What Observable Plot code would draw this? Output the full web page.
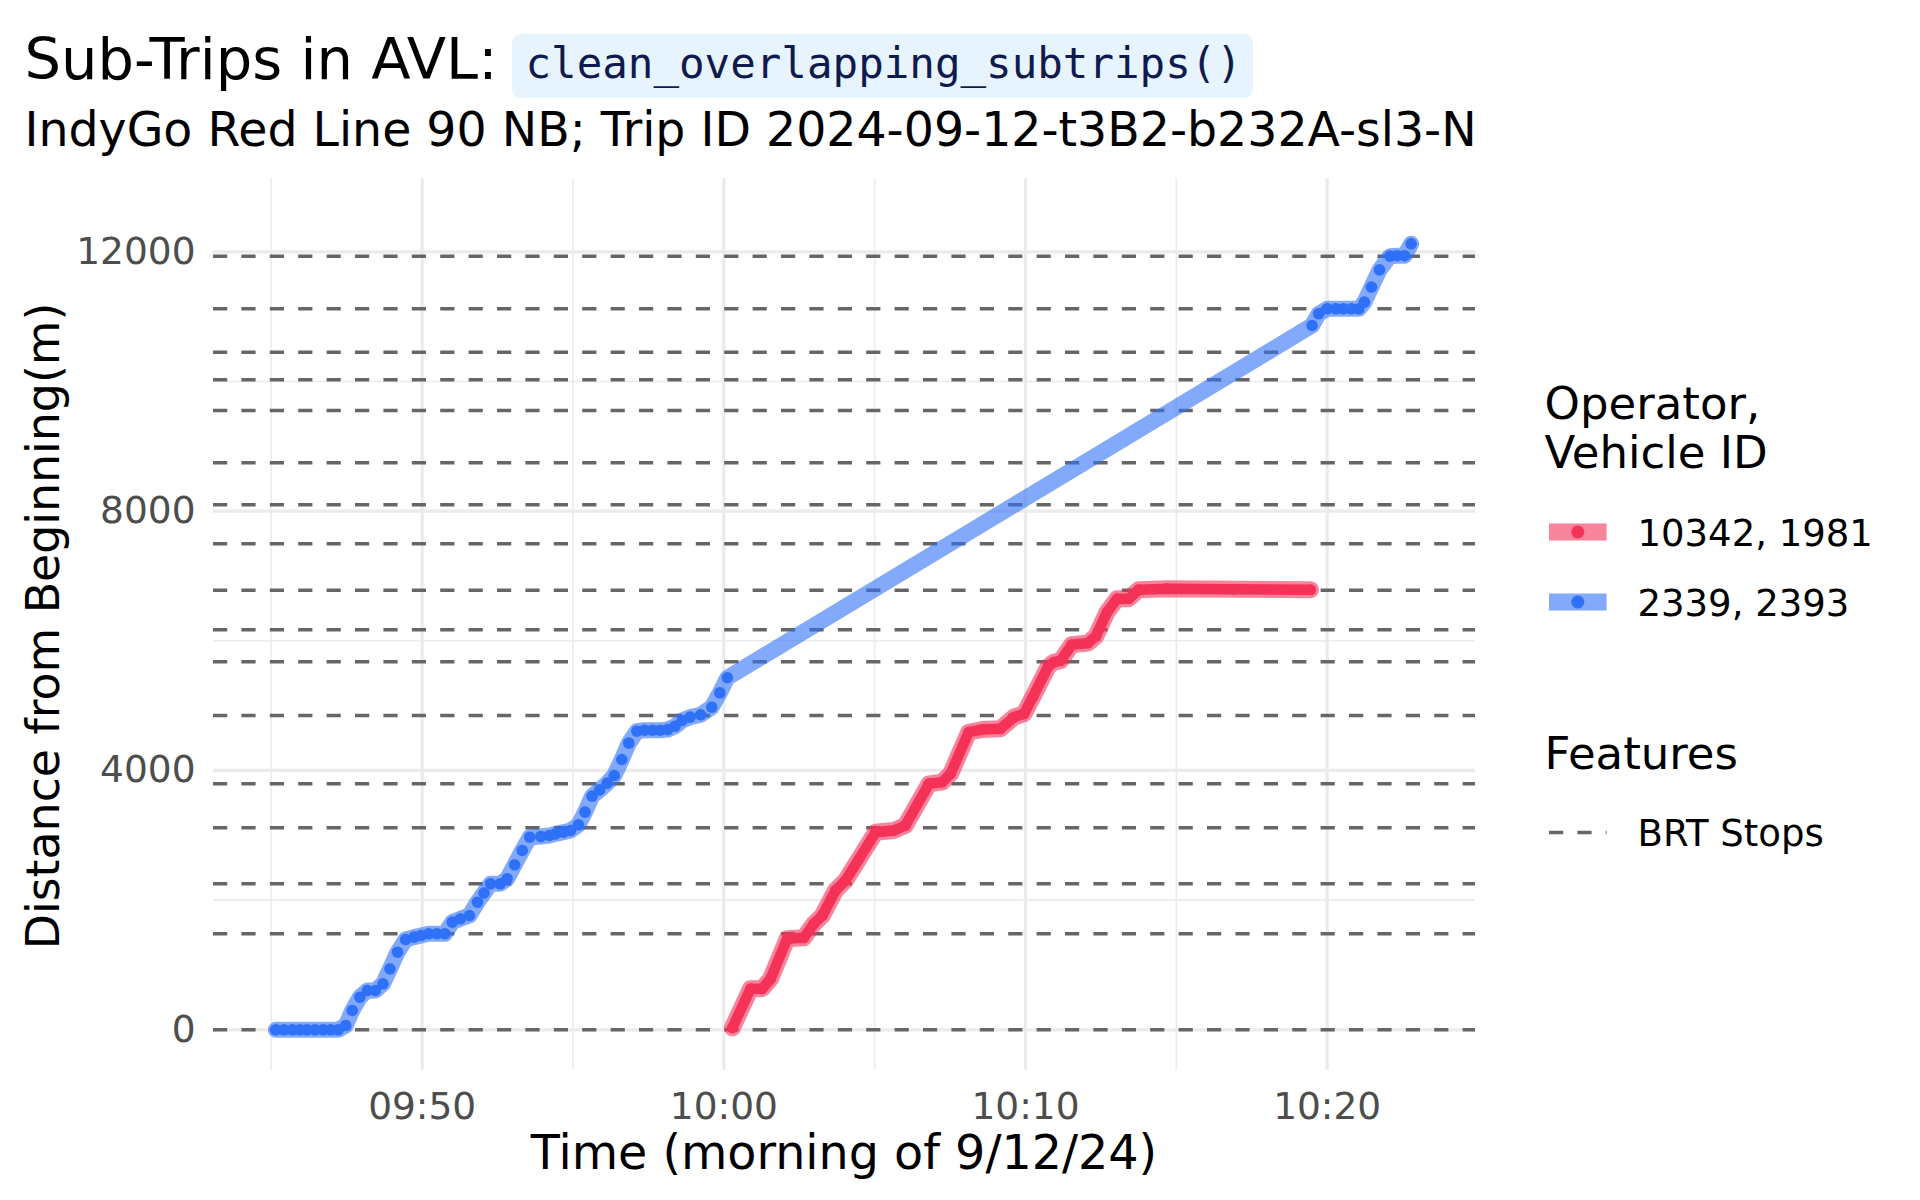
<!DOCTYPE html>
<html><head><meta charset="utf-8">
<script src="https://cdn.jsdelivr.net/npm/d3@7"></script>
<script src="https://cdn.jsdelivr.net/npm/@observablehq/plot@0.6"></script>
<style>
html,body{margin:0;padding:0;background:#fff;}
#wrap{position:relative;width:1920px;height:1200px;font-family:"DejaVu Sans",sans-serif;}
#wrap svg{position:absolute;left:0;top:0;}
</style></head><body><div id="wrap"></div>
<script>
const day = "2024-09-12";
const T = s => new Date(`${day}T${s}Z`);

// BRT stop distances (m)
const stopDistances = [0, 1481, 2252, 3116, 3794, 4848, 5676, 6170, 6781, 7497, 8098, 8746, 9553, 10026, 10452, 11121, 11933];

// Operator 2339, vehicle 2393
const blueTimes = ["09:45:09","09:45:25","09:45:42","09:45:57","09:46:11","09:46:27","09:46:43","09:46:58","09:47:13",
  "09:47:28","09:47:41","09:47:56","09:48:11","09:48:27","09:48:42","09:48:56","09:49:11","09:49:27","09:49:44","09:49:58",
  "09:50:13","09:50:29","09:50:45","09:51:00","09:51:16","09:51:34","09:51:50","09:52:03","09:52:16","09:52:35","09:52:49",
  "09:53:04","09:53:19","09:53:34","09:53:56","09:54:13","09:54:25","09:54:41","09:54:55","09:55:11","09:55:24","09:55:38",
  "09:55:53","09:56:08","09:56:22","09:56:37","09:56:51","09:57:07","09:57:22","09:57:38","09:57:53","09:58:08","09:58:23",
  "09:58:37","09:58:53","09:59:14","09:59:36","09:59:52","10:00:07",
  "10:19:30","10:19:43","10:20:00","10:20:17","10:20:32","10:20:48","10:21:03","10:21:14","10:21:28","10:21:44","10:22:05",
  "10:22:19","10:22:34","10:22:47"];
const blueDist = [0,0,0,0,0,0,0,0,0,
  66,298,503,606,606,709,940,1197,1393,1429,1455,
  1481,1481,1481,1660,1712,1763,1968,2110,2252,2252,2329,
  2545,2766,2971,2982,2997,3022,3048,3074,3162,3357,3604,
  3700,3804,3922,4169,4421,4606,4620,4620,4620,4630,4683,
  4771,4822,4859,4976,5198,5430,
  10864,11044,11121,11121,11121,11121,11121,11224,11455,11722,11933,
  11940,11940,12124];

// Operator 10342, vehicle 1981
const redTimes = ["10:00:17","10:00:53","10:01:16","10:01:33","10:02:06","10:02:39","10:02:59","10:03:16","10:03:42","10:04:02",
  "10:05:02","10:05:38","10:06:01","10:06:48","10:07:14","10:07:31","10:08:07","10:08:34","10:09:10","10:09:37","10:09:57",
  "10:10:15","10:10:45","10:10:56","10:11:10","10:11:32","10:12:04","10:12:20","10:12:42","10:13:02","10:13:25","10:13:45",
  "10:14:42","10:16:54","10:19:27"];
const redDist = [30,632,632,787,1404,1419,1635,1763,2149,2303,
  3048,3074,3151,3794,3820,3949,4590,4632,4643,4822,4874,
  5140,5600,5670,5696,5940,5965,6070,6440,6648,6648,6787,
  6802,6797,6787];

const yTicks = [0, 4000, 8000, 12000];
const yMinor = [2000, 6000, 10000];
const xTicks = ["09:50:00","10:00:00","10:10:00","10:20:00"];
const xMinor = ["09:45:00","09:55:00","10:05:00","10:15:00"];
const seriesLabels = ["10342, 1981", "2339, 2393"];
const seriesColors = ["#F43258", "#2E70F6"];

const blue = blueTimes.map((t, i) => ({t: T(t), d: blueDist[i]}));
const red = redTimes.map((t, i) => ({t: T(t), d: redDist[i]}));
const [redC, blueC] = seriesColors;

const chart = Plot.plot({
  width: 1920, height: 1200,
  marginLeft: 213, marginRight: 445, marginTop: 178, marginBottom: 130,
  style: {fontFamily: "DejaVu Sans", background: "transparent", overflow: "visible"},
  x: {type: "utc", domain: [T("09:43:05"), T("10:24:55")]},
  y: {domain: [-628, 13131]},
  marks: [
    Plot.ruleY(yMinor, {stroke: "#EBEBEB", strokeWidth: 1.6}),
    Plot.ruleX(xMinor.map(T), {stroke: "#EBEBEB", strokeWidth: 1.6}),
    Plot.ruleY(yTicks, {stroke: "#EBEBEB", strokeWidth: 3.2}),
    Plot.ruleX(xTicks.map(T), {stroke: "#EBEBEB", strokeWidth: 3.2}),
    Plot.ruleY(stopDistances, {stroke: "#666666", strokeWidth: 3.5, strokeDasharray: "14.2,14.2"}),
    Plot.line(red, {x: "t", y: "d", stroke: redC, strokeOpacity: 0.6, strokeWidth: 17, strokeLinecap: "round", strokeLinejoin: "round"}),
    Plot.line(red, {x: "t", y: "d", stroke: redC, strokeWidth: 10.5, strokeLinecap: "round", strokeLinejoin: "round"}),
    Plot.dot(red, {x: "t", y: "d", r: 5.5, fill: redC}),
    Plot.line(blue, {x: "t", y: "d", stroke: blueC, strokeOpacity: 0.6, strokeWidth: 16, strokeLinecap: "round", strokeLinejoin: "round"}),
    Plot.dot(blue, {x: "t", y: "d", r: 5.8, fill: blueC}),
    Plot.axisY(yTicks, {tickSize: 0, tickPadding: 18, fontSize: 37.5, color: "#4D4D4D", label: null, tickFormat: d3.format("d")}),
    Plot.axisX(xTicks.map(T), {tickSize: 0, tickPadding: 22, fontSize: 37.5, color: "#4D4D4D", label: null, tickFormat: d3.utcFormat("%H:%M")})
  ]
});
document.getElementById("wrap").appendChild(chart);

// titles, axis titles and legend
const ov = d3.select("#wrap").append("svg")
  .attr("width", 1920).attr("height", 1200)
  .style("font-family", "'DejaVu Sans', sans-serif");

ov.append("text").attr("x", 24.5).attr("y", 78.5).attr("font-size", 57.5).attr("fill", "#000").text("Sub-Trips in AVL:");
ov.append("rect").attr("x", 512).attr("y", 34).attr("width", 741).attr("height", 64).attr("rx", 9).attr("fill", "#E8F4FD");
ov.append("text").attr("x", 525.5).attr("y", 78).attr("font-size", 42.5)
  .attr("font-family", "'DejaVu Sans Mono', monospace").attr("fill", "#0F1B4C").text("clean_overlapping_subtrips()");
ov.append("text").attr("x", 24.5).attr("y", 146).attr("font-size", 47.4).attr("fill", "#000")
  .text("IndyGo Red Line 90 NB; Trip ID 2024-09-12-t3B2-b232A-sl3-N");

ov.append("text").attr("transform", "translate(58.5,626) rotate(-90)").attr("text-anchor", "middle")
  .attr("font-size", 45.8).attr("fill", "#000").text("Distance from Beginning(m)");
ov.append("text").attr("x", 844).attr("y", 1169).attr("text-anchor", "middle")
  .attr("font-size", 47.6).attr("fill", "#000").text("Time (morning of 9/12/24)");

// legend: operator, vehicle
const lx = 1544.5;
ov.append("text").attr("x", lx).attr("y", 419.3).attr("font-size", 45).text("Operator,");
ov.append("text").attr("x", lx).attr("y", 468.3).attr("font-size", 45).text("Vehicle ID");
const keyY = [532, 602];
seriesLabels.forEach((lab, i) => {
  const c = seriesColors[i];
  ov.append("rect").attr("x", 1549).attr("y", keyY[i] - 8.5).attr("width", 57.6).attr("height", 17)
    .attr("fill", c).attr("fill-opacity", 0.6);
  ov.append("circle").attr("cx", 1577.8).attr("cy", keyY[i]).attr("r", 6.5).attr("fill", c);
  ov.append("text").attr("x", 1637.5).attr("y", keyY[i] + 13.5).attr("font-size", 37).text(lab);
});
// legend: features
ov.append("text").attr("x", lx).attr("y", 768.7).attr("font-size", 45).text("Features");
ov.append("line").attr("x1", 1549).attr("x2", 1606.6).attr("y1", 832.5).attr("y2", 832.5)
  .attr("stroke", "#666666").attr("stroke-width", 3.5).attr("stroke-dasharray", "14.2,14.2");
ov.append("text").attr("x", 1637.5).attr("y", 846).attr("font-size", 37).text("BRT Stops");
</script>
</body></html>
